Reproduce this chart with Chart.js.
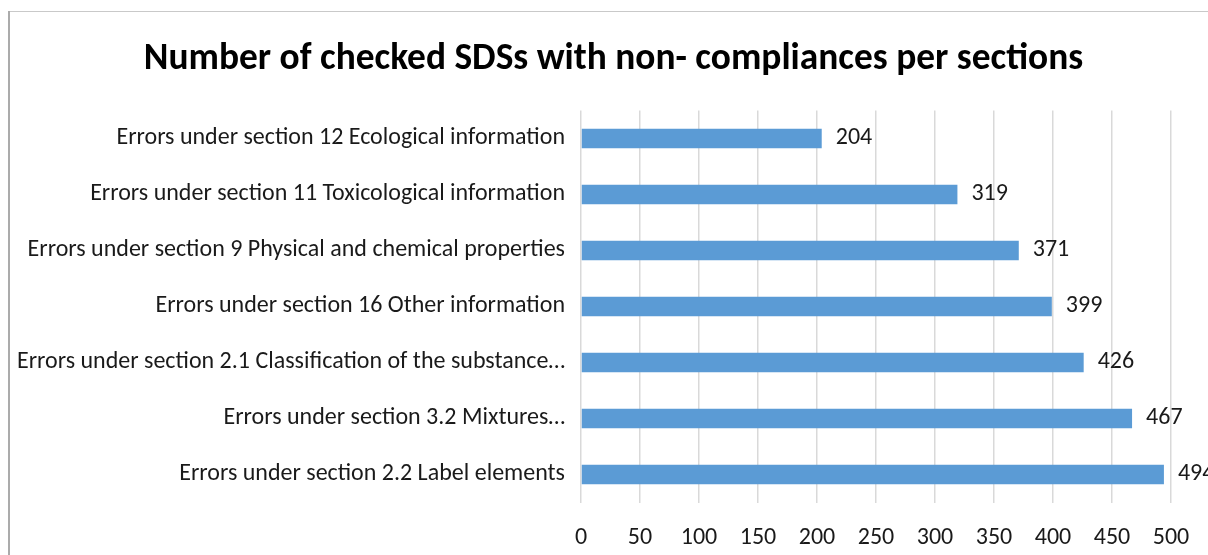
<!DOCTYPE html>
<html>
<head>
<meta charset="utf-8">
<script src="https://cdn.jsdelivr.net/npm/chart.js@4.4.1/dist/chart.umd.min.js"></script>
<style>
html,body{margin:0;padding:0;background:#fff;overflow:hidden;width:1208px;height:555px;}
canvas{display:block;}
</style>
</head>
<body>
<canvas id="c" width="1228" height="555" style="width:1228px;height:555px"></canvas>
<script>
const TITLE = "Number of checked SDSs with non- compliances per sections";
const categories = [
  "Errors under section 12 Ecological information",
  "Errors under section 11 Toxicological information",
  "Errors under section 9 Physical and chemical properties",
  "Errors under section 16 Other information",
  "Errors under section 2.1 Classification of the substance…",
  "Errors under section 3.2 Mixtures…",
  "Errors under section 2.2 Label elements"
];
const values = [204, 319, 371, 399, 426, 467, 494];
const xTicks = [0, 50, 100, 150, 200, 250, 300, 350, 400, 450, 500];

const FONT = "Carlito, Calibri, 'Liberation Sans Narrow', sans-serif";

const frame = {
  id: 'frame',
  afterLayout(chart) {
    // centre the title over the whole chart frame (which starts at x≈8 and runs past the right edge)
    chart.titleBlock.left = 56;
  },
  beforeDraw(chart) {
    const ctx = chart.ctx;
    ctx.save();
    ctx.fillStyle = '#fff';
    ctx.fillRect(0, 0, chart.width, chart.height);
    ctx.strokeStyle = '#C9C9C9';
    ctx.lineWidth = 1;
    ctx.beginPath();
    ctx.moveTo(8, 11.5); ctx.lineTo(chart.width, 11.5);
    ctx.stroke();
    ctx.strokeStyle = '#ABABAB';
    ctx.lineWidth = 2;
    ctx.beginPath();
    ctx.moveTo(9, 11); ctx.lineTo(9, chart.height);
    ctx.stroke();
    ctx.restore();
  }
};

const valueLabels = {
  id: 'valueLabels',
  afterDatasetsDraw(chart) {
    const ctx = chart.ctx;
    const meta = chart.getDatasetMeta(0);
    ctx.save();
    ctx.font = "24px " + FONT;
    ctx.fillStyle = '#1a1a1a';
    ctx.textAlign = 'left';
    ctx.textBaseline = 'middle';
    meta.data.forEach((bar, i) => {
      ctx.fillText(String(values[i]), bar.x + 14, bar.y);
    });
    ctx.restore();
  }
};

new Chart(document.getElementById('c'), {
  type: 'bar',
  data: {
    labels: categories,
    datasets: [{
      data: values,
      backgroundColor: '#5B9BD5',
      borderWidth: 0,
      categoryPercentage: 1,
      barPercentage: 0.35
    }]
  },
  options: {
    indexAxis: 'y',
    responsive: false,
    animation: false,
    events: [],
    layout: { padding: { left: 0, right: 57, top: 0, bottom: 0 } },
    plugins: {
      legend: { display: false },
      tooltip: { enabled: false },
      title: {
        display: true,
        text: TITLE,
        color: '#000',
        font: { family: FONT, size: 37.4, weight: 'bold', lineHeight: 1.2 },
        padding: { top: 37, bottom: 28.6 }
      }
    },
    scales: {
      x: {
        min: 0, max: 500,
        afterBuildTicks(scale) { scale.ticks = xTicks.map(v => ({ value: v })); },
        afterFit(scale) { scale.height = 52.5; },
        grid: { color: '#D9D9D9', lineWidth: 1.5, drawTicks: false },
        border: { display: false },
        ticks: { color: '#1a1a1a', font: { family: FONT, size: 24 }, padding: 21, maxRotation: 0 }
      },
      y: {
        grid: { display: false, drawTicks: false },
        border: { display: false },
        afterFit(scale) { scale.width = 581; },
        ticks: { color: '#1a1a1a', font: { family: FONT, size: 24 }, padding: 16, autoSkip: false }
      }
    }
  },
  plugins: [frame, valueLabels]
});
</script>
</body>
</html>
